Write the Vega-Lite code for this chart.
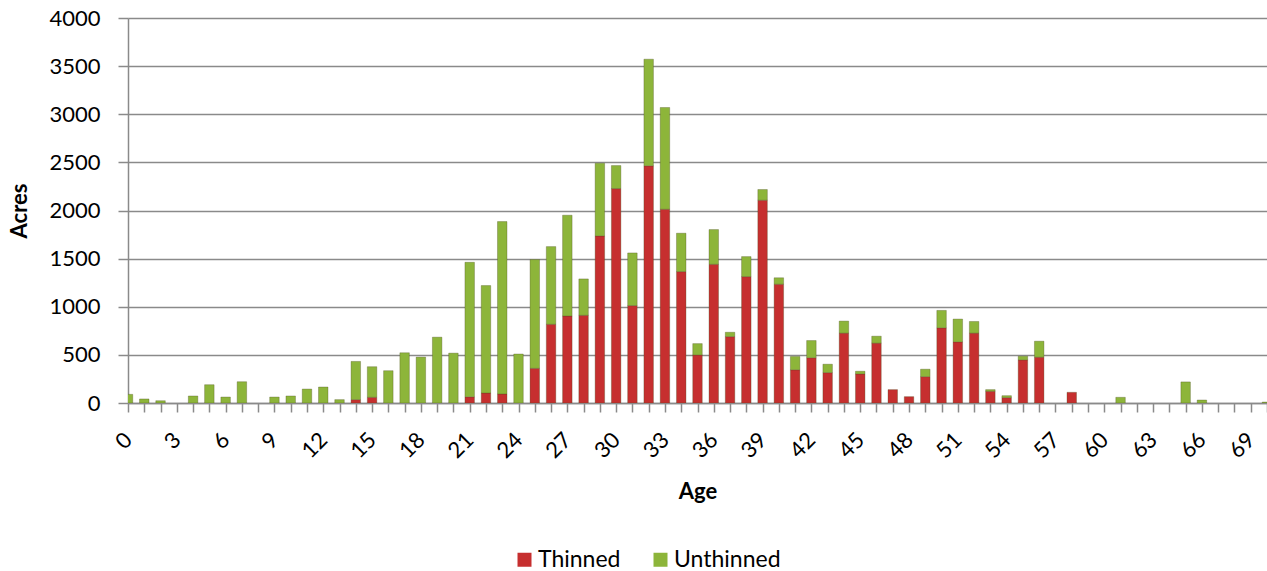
{
  "$schema": "https://vega.github.io/schema/vega-lite/v6.json",
  "autosize": {"type": "none"},
  "padding": {"left": 128, "top": 18, "right": 0, "bottom": 168},
  "width": 1139,
  "height": 385,
  "background": "white",
  "config": {
    "font": "Lato",
    "view": {"stroke": null},
    "axis": {"labelFont": "Lato", "titleFont": "Lato", "labelColor": "#000000", "titleColor": "#000000"}
  },
  "data": {
    "values": [
      {"age": 0, "type": "Unthinned", "acres": 90},
      {"age": 1, "type": "Unthinned", "acres": 42},
      {"age": 2, "type": "Unthinned", "acres": 24},
      {"age": 4, "type": "Unthinned", "acres": 73},
      {"age": 5, "type": "Unthinned", "acres": 190},
      {"age": 6, "type": "Unthinned", "acres": 62},
      {"age": 7, "type": "Unthinned", "acres": 221},
      {"age": 9, "type": "Unthinned", "acres": 62},
      {"age": 10, "type": "Unthinned", "acres": 73},
      {"age": 11, "type": "Unthinned", "acres": 145},
      {"age": 12, "type": "Unthinned", "acres": 166},
      {"age": 13, "type": "Unthinned", "acres": 35},
      {"age": 14, "type": "Thinned", "acres": 35},
      {"age": 14, "type": "Unthinned", "acres": 397},
      {"age": 15, "type": "Thinned", "acres": 59},
      {"age": 15, "type": "Unthinned", "acres": 318},
      {"age": 16, "type": "Unthinned", "acres": 336},
      {"age": 17, "type": "Unthinned", "acres": 522},
      {"age": 18, "type": "Unthinned", "acres": 477},
      {"age": 19, "type": "Unthinned", "acres": 684},
      {"age": 20, "type": "Unthinned", "acres": 518},
      {"age": 21, "type": "Thinned", "acres": 64},
      {"age": 21, "type": "Unthinned", "acres": 1398},
      {"age": 22, "type": "Thinned", "acres": 104},
      {"age": 22, "type": "Unthinned", "acres": 1116},
      {"age": 23, "type": "Thinned", "acres": 94},
      {"age": 23, "type": "Unthinned", "acres": 1791},
      {"age": 24, "type": "Unthinned", "acres": 509},
      {"age": 25, "type": "Thinned", "acres": 360},
      {"age": 25, "type": "Unthinned", "acres": 1130},
      {"age": 26, "type": "Thinned", "acres": 818},
      {"age": 26, "type": "Unthinned", "acres": 807},
      {"age": 27, "type": "Thinned", "acres": 904},
      {"age": 27, "type": "Unthinned", "acres": 1047},
      {"age": 28, "type": "Thinned", "acres": 911},
      {"age": 28, "type": "Unthinned", "acres": 378},
      {"age": 29, "type": "Thinned", "acres": 1736},
      {"age": 29, "type": "Unthinned", "acres": 755},
      {"age": 30, "type": "Thinned", "acres": 2228},
      {"age": 30, "type": "Unthinned", "acres": 239},
      {"age": 31, "type": "Thinned", "acres": 1012},
      {"age": 31, "type": "Unthinned", "acres": 547},
      {"age": 32, "type": "Thinned", "acres": 2464},
      {"age": 32, "type": "Unthinned", "acres": 1108},
      {"age": 33, "type": "Thinned", "acres": 2013},
      {"age": 33, "type": "Unthinned", "acres": 1057},
      {"age": 34, "type": "Thinned", "acres": 1365},
      {"age": 34, "type": "Unthinned", "acres": 399},
      {"age": 35, "type": "Thinned", "acres": 499},
      {"age": 35, "type": "Unthinned", "acres": 118},
      {"age": 36, "type": "Thinned", "acres": 1441},
      {"age": 36, "type": "Unthinned", "acres": 361},
      {"age": 37, "type": "Thinned", "acres": 690},
      {"age": 37, "type": "Unthinned", "acres": 45},
      {"age": 38, "type": "Thinned", "acres": 1313},
      {"age": 38, "type": "Unthinned", "acres": 208},
      {"age": 39, "type": "Thinned", "acres": 2107},
      {"age": 39, "type": "Unthinned", "acres": 111},
      {"age": 40, "type": "Thinned", "acres": 1234},
      {"age": 40, "type": "Unthinned", "acres": 67},
      {"age": 41, "type": "Thinned", "acres": 345},
      {"age": 41, "type": "Unthinned", "acres": 138},
      {"age": 42, "type": "Thinned", "acres": 470},
      {"age": 42, "type": "Unthinned", "acres": 179},
      {"age": 43, "type": "Thinned", "acres": 316},
      {"age": 43, "type": "Unthinned", "acres": 87},
      {"age": 44, "type": "Thinned", "acres": 726},
      {"age": 44, "type": "Unthinned", "acres": 125},
      {"age": 45, "type": "Thinned", "acres": 302},
      {"age": 45, "type": "Unthinned", "acres": 28},
      {"age": 46, "type": "Thinned", "acres": 622},
      {"age": 46, "type": "Unthinned", "acres": 72},
      {"age": 47, "type": "Thinned", "acres": 139},
      {"age": 48, "type": "Thinned", "acres": 66},
      {"age": 49, "type": "Thinned", "acres": 274},
      {"age": 49, "type": "Unthinned", "acres": 77},
      {"age": 50, "type": "Thinned", "acres": 781},
      {"age": 50, "type": "Unthinned", "acres": 181},
      {"age": 51, "type": "Thinned", "acres": 635},
      {"age": 51, "type": "Unthinned", "acres": 237},
      {"age": 52, "type": "Thinned", "acres": 726},
      {"age": 52, "type": "Unthinned", "acres": 121},
      {"age": 53, "type": "Thinned", "acres": 122},
      {"age": 53, "type": "Unthinned", "acres": 17},
      {"age": 54, "type": "Thinned", "acres": 56},
      {"age": 54, "type": "Unthinned", "acres": 20},
      {"age": 55, "type": "Thinned", "acres": 448},
      {"age": 55, "type": "Unthinned", "acres": 38},
      {"age": 56, "type": "Thinned", "acres": 476},
      {"age": 56, "type": "Unthinned", "acres": 166},
      {"age": 58, "type": "Thinned", "acres": 111},
      {"age": 61, "type": "Unthinned", "acres": 59},
      {"age": 65, "type": "Unthinned", "acres": 219},
      {"age": 66, "type": "Unthinned", "acres": 31},
      {"age": 70, "type": "Unthinned", "acres": 10}
    ]
  },
  "mark": {"type": "bar", "size": 9.5, "clip": true, "stroke": "#4a4a20", "strokeOpacity": 0.4, "strokeWidth": 0.8},
  "encoding": {
    "x": {
      "field": "age",
      "type": "quantitative",
      "scale": {"domain": [0, 70], "nice": false, "zero": true, "padding": 0},
      "axis": {
        "title": "Age",
        "titleFontSize": 22,
        "titleFontWeight": "bold",
        "titlePadding": 20,
        "values": [0,1,2,3,4,5,6,7,8,9,10,11,12,13,14,15,16,17,18,19,20,21,22,23,24,25,26,27,28,29,30,31,32,33,34,35,36,37,38,39,40,41,42,43,44,45,46,47,48,49,50,51,52,53,54,55,56,57,58,59,60,61,62,63,64,65,66,67,68,69,70],
        "labelExpr": "datum.value % 3 == 0 ? datum.label : ''",
        "labelAngle": -45,
        "labelAlign": "right",
        "labelBaseline": "middle",
        "labelFontSize": 22,
        "labelPadding": 24,
        "labelOverlap": false,
        "labelFlush": false,
        "grid": false,
        "domainColor": "#8a8a8a",
        "domainWidth": 1.5,
        "tickColor": "#8a8a8a",
        "tickWidth": 1.5,
        "tickSize": 9
      }
    },
    "y": {
      "field": "acres",
      "type": "quantitative",
      "aggregate": "sum",
      "stack": "zero",
      "scale": {"domain": [0, 4000], "nice": false},
      "axis": {
        "title": "Acres",
        "titleFontSize": 22,
        "titleFontWeight": "bold",
        "titlePadding": 17,
        "format": "d",
        "values": [0, 500, 1000, 1500, 2000, 2500, 3000, 3500, 4000],
        "labelFontSize": 22,
        "labelPadding": 18,
        "grid": true,
        "gridColor": "#8a8a8a",
        "gridWidth": 1.5,
        "domainColor": "#8a8a8a",
        "domainWidth": 1.5,
        "tickColor": "#8a8a8a",
        "tickWidth": 1.5,
        "tickSize": 10
      }
    },
    "color": {
      "field": "type",
      "type": "nominal",
      "scale": {"domain": ["Thinned", "Unthinned"], "range": ["#c62f2f", "#8db53a"]},
      "legend": {
        "title": null,
        "orient": "none",
        "direction": "horizontal",
        "legendX": 385,
        "legendY": 530,
        "symbolType": "square",
        "symbolSize": 196,
        "symbolStrokeWidth": 0,
        "labelFontSize": 23,
        "labelFont": "Lato",
        "labelColor": "#000000",
        "columnPadding": 28,
        "labelOffset": 2
      }
    },
    "order": {"field": "type", "sort": "ascending"}
  }
}
